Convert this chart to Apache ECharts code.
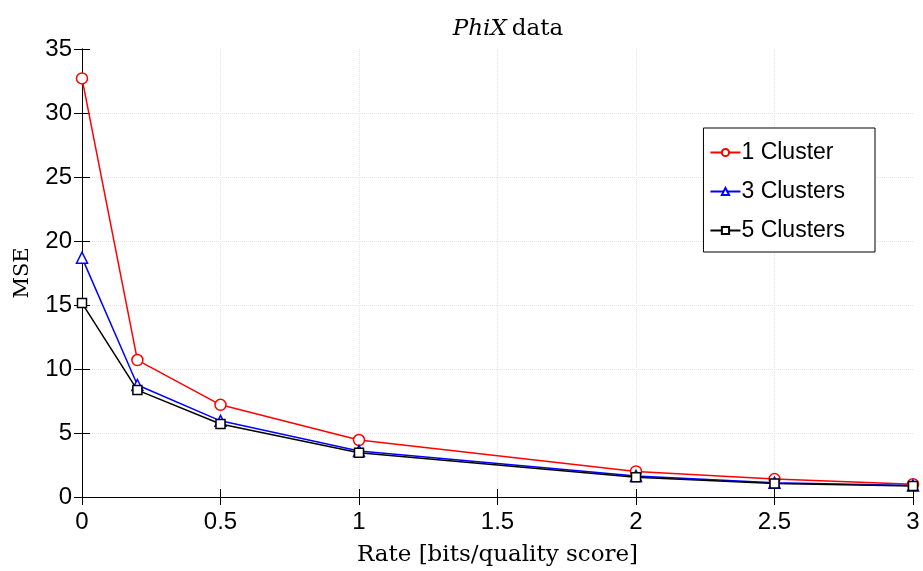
<!DOCTYPE html>
<html>
<head>
<meta charset="utf-8">
<script src="https://cdn.jsdelivr.net/npm/echarts@6/dist/echarts.min.js"></script>
<style>
  html, body { margin: 0; padding: 0; background: #fff; }
  #chart { width: 923px; height: 571px; }
</style>
</head>
<body>
<div id="chart"></div>
<script>
// rate values (bits/quality score)
var rates = [0, 0.2, 0.5, 1, 2, 2.5, 3]
var oneCluster = [32.7, 10.7, 7.2, 4.45, 2.0, 1.4, 1.0]
var threeClusters = [18.7, 8.75, 5.95, 3.6, 1.65, 1.12, 0.9]
var fiveClusters = [15.15, 8.35, 5.7, 3.45, 1.55, 1.05, 0.85]
var seriesNames = ['1 Cluster', '3 Clusters', '5 Clusters']

function pairs(ys) {
  return rates.map(function(x, i) { return [x, ys[i]] })
}

var tickFont = 'Liberation Sans'
var serifFont = 'DejaVu Serif'

function mkSeries(name, ys, color, symbol, size) {
  return {
    name: name,
    type: 'line',
    data: pairs(ys),
    symbol: symbol,
    symbolSize: size,
    showAllSymbol: true,
    lineStyle: { color: color, width: 1.5 },
    itemStyle: { color: '#fff', borderColor: color, borderWidth: 1.5 },
    emphasis: { disabled: true },
    z: 3
  }
}

var gridLine = { show: true, showMinLine: false, showMaxLine: false, lineStyle: { color: '#e4e4e4', type: 'dotted' } }
var tickIn = { show: true, inside: true, length: 8, lineStyle: { color: '#000' } }

var chart = echarts.init(document.getElementById('chart'))
var option = {
  animation: false,
  backgroundColor: '#fff',
  title: {
    text: '{i|PhiX} {n|data}',
    left: 503,
    textAlign: 'center',
    top: 13,
    textStyle: {
      rich: {
        i: { fontFamily: serifFont, fontStyle: 'italic', fontWeight: 'normal', fontSize: 23, color: '#000' },
        n: { fontFamily: serifFont, fontWeight: 'normal', fontSize: 23, color: '#000' }
      }
    }
  },
  grid: { left: 82, right: 10, top: 49, bottom: 74, outerBoundsMode: 'none', containLabel: false },
  legend: {
    orient: 'vertical',
    right: 48,
    top: 128,
    backgroundColor: '#fff',
    borderColor: '#000',
    borderWidth: 1,
    borderRadius: 0,
    padding: [13, 30, 10, 6],
    itemGap: 16,
    itemWidth: 30,
    itemHeight: 9,
    textStyle: { fontFamily: tickFont, fontSize: 23, color: '#000', padding: [0, 0, 0, -4] },
    data: seriesNames
  },
  xAxis: [{
    type: 'value',
    min: 0, max: 3, interval: 0.5,
    name: 'Rate [bits/quality score]',
    nameLocation: 'middle',
    nameGap: 47,
    nameTextStyle: { fontFamily: serifFont, fontSize: 23, color: '#000' },
    axisLine: { lineStyle: { color: '#000' } },
    axisTick: tickIn,
    axisLabel: { fontFamily: tickFont, fontSize: 24, color: '#000', margin: 13 },
    splitLine: gridLine
  }, {
    type: 'value',
    position: 'top',
    min: 0, max: 3, interval: 0.5,
    axisLine: { lineStyle: { color: '#000' } },
    axisTick: tickIn,
    axisLabel: { show: false },
    splitLine: { show: false }
  }],
  yAxis: [{
    type: 'value',
    min: 0, max: 35, interval: 5,
    name: 'MSE',
    nameLocation: 'middle',
    nameGap: 49,
    nameTextStyle: { fontFamily: serifFont, fontSize: 21, color: '#000' },
    axisLine: { show: true, lineStyle: { color: '#000' } },
    axisTick: tickIn,
    axisLabel: { fontFamily: tickFont, fontSize: 24, color: '#000', margin: 10 },
    splitLine: gridLine
  }, {
    type: 'value',
    position: 'right',
    min: 0, max: 35, interval: 5,
    axisLine: { show: true, lineStyle: { color: '#000' } },
    axisTick: tickIn,
    axisLabel: { show: false },
    splitLine: { show: false }
  }],
  series: [
    mkSeries(seriesNames[0], oneCluster, '#ff0000', 'circle', 11),
    mkSeries(seriesNames[1], threeClusters, '#0000ff', 'triangle', 11),
    mkSeries(seriesNames[2], fiveClusters, '#000000', 'rect', 9)
  ]
}
chart.setOption(option)
</script>
</body>
</html>
